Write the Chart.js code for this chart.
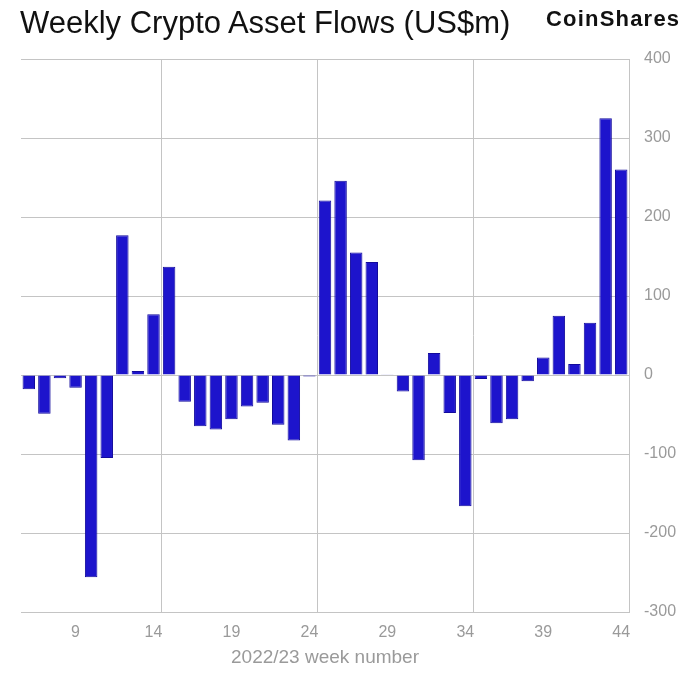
<!DOCTYPE html>
<html>
<head>
<meta charset="utf-8">
<script src="https://cdn.jsdelivr.net/npm/chart.js@4"></script>
<style>
    body { margin: 0; background: #fff; }
    #wrap { position: relative; width: 691px; height: 673px; }
    #title {
        position: absolute; left: 20px; top: 5px;
        font: 31px "Liberation Sans", Arial, sans-serif; color: #111;
        white-space: nowrap;
    }
    #brand {
        position: absolute; left: 546px; top: 6px;
        font: bold 22px "Liberation Sans", Arial, sans-serif; color: #111;
        letter-spacing: 1.2px; white-space: nowrap;
    }
    canvas { position: absolute; left: 0; top: 0; }
</style>
</head>
<body>
<div id="wrap">
    <canvas id="flows" width="691" height="673"></canvas>
    <div id="title">Weekly Crypto Asset Flows (US$m)</div>
    <div id="brand">CoinShares</div>
</div>
<script>
// week numbers (2022/23) and weekly flows in US$m
const weekLabels = ['6', '7', '8', '9', '10', '11', '12', '13', '14', '15',
    '16', '17', '18', '19', '20', '21', '22', '23', '24', '25',
    '26', '27', '28', '29', '30', '31', '32', '33', '34', '35',
    '36', '37', '38', '39', '40', '41', '42', '43', '44'];
const flows = [-18, -49, -4, -16, -256, -105, 177, 5, 77, 137,
    -34, -65, -69, -56, -40, -35, -63, -83, -2, 221,
    246, 155, 143, 1, -21, -108, 28, -48, -166, -5,
    -61, -56, -8, 22, 75, 14, 66, 325, 260];
const shownTicks = ['9', '14', '19', '24', '29', '34', '39', '44'];
// vertical grid lines sit just before these weeks
const gridBefore = ['15', '25', '35'];

const grey = '#c4c4c4';
const tickGrey = '#9a9a9a';

new Chart('flows', {
    type: 'bar',
    data: {
        labels: weekLabels,
        datasets: [{
            data: flows,
            backgroundColor: '#1d14cc',
            borderColor: '#130b9c',
            borderWidth: 1,
            barPercentage: 0.8,
            categoryPercentage: 1.0
        }]
    },
    options: {
        responsive: false,
        animation: false,
        layout: { padding: { top: 59, left: 21, right: 0, bottom: 0 } },
        plugins: {
            legend: { display: false },
            tooltip: { enabled: false }
        },
        scales: {
            x: {
                grid: {
                    offset: true,
                    drawTicks: false,
                    color: ctx => gridBefore.includes(weekLabels[ctx.index]) ? grey : 'rgba(0,0,0,0)'
                },
                border: { display: true, color: grey },
                ticks: {
                    autoSkip: false,
                    maxRotation: 0,
                    padding: 11,
                    color: tickGrey,
                    font: { family: '"Liberation Sans", Arial, sans-serif', size: 16 },
                    callback: function (value) {
                        const l = this.getLabelForValue(value);
                        return shownTicks.includes(l) ? l : '';
                    }
                },
                title: {
                    display: true,
                    text: '2022/23 week number',
                    color: tickGrey,
                    font: { family: '"Liberation Sans", Arial, sans-serif', size: 19 },
                    padding: { top: 0, bottom: 4 }
                },
                afterFit: s => { s.height = 61; }
            },
            y: {
                position: 'right',
                min: -300,
                max: 400,
                grid: { drawTicks: false, color: grey },
                border: { display: true, color: grey },
                ticks: {
                    stepSize: 100,
                    padding: 15,
                    color: tickGrey,
                    font: { family: '"Liberation Sans", Arial, sans-serif', size: 16 }
                },
                afterFit: s => { s.width = 62; }
            }
        }
    }
});
</script>
</body>
</html>
